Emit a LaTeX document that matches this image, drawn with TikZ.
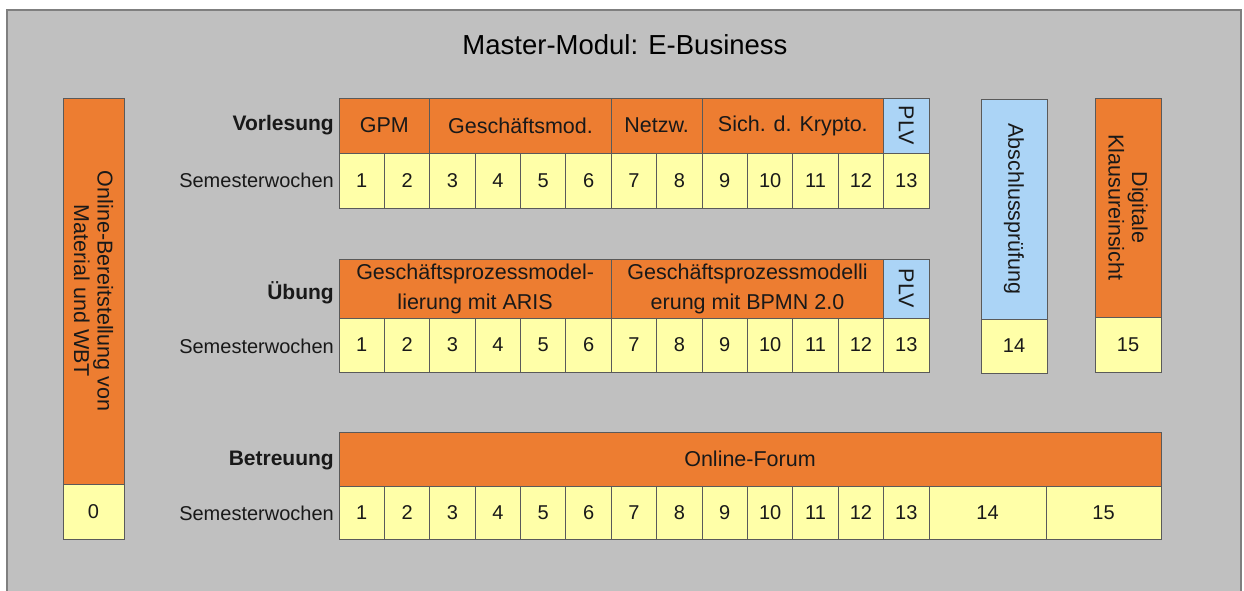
\documentclass[tikz,border=0pt]{standalone}
\usepackage{fontspec}
\setmainfont{Liberation Sans}
\usepackage{tikz}
\usetikzlibrary{backgrounds}
\definecolor{bgcolor}{HTML}{C0C0C0}
\definecolor{framecolor}{HTML}{7F7F7F}
\definecolor{orangecolor}{HTML}{ED7D31}
\definecolor{weekcolor}{HTML}{FFFFA8}
\definecolor{plvcolor}{HTML}{ABD4F6}
\definecolor{linecolor}{HTML}{5A5A5A}
\newcommand{\cellw}{45.4pt}
\newcommand{\txtsize}{\fontsize{20}{22}\selectfont}
\newcommand{\hdrsize}{\fontsize{21.5}{30}\selectfont}
\newcommand{\vertsize}{\fontsize{21.5}{23.5}\selectfont}

\tikzset{
  box/.style={draw=linecolor, line width=0.9pt, inner sep=0pt, outer sep=0pt, font=\txtsize, text=black!90},
  hdr/.style={box, fill=orangecolor, font=\hdrsize},
  plv/.style={box, fill=plvcolor, font=\hdrsize},
  wk/.style={box, fill=weekcolor, minimum width=\cellw},
  rowlbl/.style={anchor=east, inner sep=0pt, font=\txtsize, text=black!90},
}

\begin{document}
\begin{tikzpicture}[x=1pt, y=-1pt]
\useasboundingbox (0,0) rectangle (1244,590);
\begin{scope}[on background layer]
\fill[white] (0,0) rectangle (1244,590);
\fill[bgcolor] (7,10) rectangle (1241,600);
\draw[framecolor] [line width = 2pt] (7,600) -- (7,10) -- (1241,10) -- (1241,600);
\end{scope}
\node[font=\fontsize{27.5}{30}\selectfont] (title) at (625,45) {Master-Modul: E-Business};
%Online-Bereitstellung
\node[hdr, font=\vertsize, rotate=-90, align=center, minimum width=386pt, minimum height=61pt] (online) at (93.5,291) {Online-Bereitstellung von\\Material und WBT};
\node[wk, minimum width=61pt, minimum height=55pt] (w0) at (93.5,511.5) {0};
%Vorlesung
\node[rowlbl, font=\fontsize{21}{22}\selectfont\bfseries] (vl) at (334,125.5) {Vorlesung};
\node[rowlbl] (vlsw) at (334,180.5) {Semesterwochen};
\node[hdr, minimum width=90.8pt, minimum height=55pt] (gpm) at (384.4,125.5) {GPM};
\node[hdr, minimum width=181.5pt, minimum height=55pt] (gmod) at (520.5,125.5) {Geschäftsmod.};
\node[hdr, minimum width=90.8pt, minimum height=55pt] (netzw) at (656.7,125.5) {Netzw.};
\node[hdr, minimum width=181.5pt, minimum height=55pt] (krypto) at (792.85,125.5) {Sich. d. Krypto.};
\node[plv, rotate=-90, minimum width=55pt, minimum height=\cellw] (vlplv) at (906.3,125.5) {PLV};
\node[wk, minimum height=55pt] (v1) at (361.7,180.5) {1};
\node[wk, minimum height=55pt] (v2) at (407.1,180.5) {2};
\node[wk, minimum height=55pt] (v3) at (452.5,180.5) {3};
\node[wk, minimum height=55pt] (v4) at (497.9,180.5) {4};
\node[wk, minimum height=55pt] (v5) at (543.2,180.5) {5};
\node[wk, minimum height=55pt] (v6) at (588.6,180.5) {6};
\node[wk, minimum height=55pt] (v7) at (634.0,180.5) {7};
\node[wk, minimum height=55pt] (v8) at (679.4,180.5) {8};
\node[wk, minimum height=55pt] (v9) at (724.8,180.5) {9};
\node[wk, minimum height=55pt] (v10) at (770.2,180.5) {10};
\node[wk, minimum height=55pt] (v11) at (815.5,180.5) {11};
\node[wk, minimum height=55pt] (v12) at (860.9,180.5) {12};
\node[wk, minimum height=55pt] (v13) at (906.3,180.5) {13};
%Uebung
\node[rowlbl, font=\fontsize{21}{22}\selectfont\bfseries] (ue) at (334,293) {Übung};
\node[rowlbl] (uesw) at (334,346) {Semesterwochen};
\node[hdr, align=center, minimum width=272.3pt, minimum height=59pt] (aris) at (475.15,289) {Geschäftsprozessmodel-\\lierung mit ARIS};
\node[hdr, align=center, minimum width=272.3pt, minimum height=59pt] (bpmn) at (747.5,289) {Geschäftsprozessmodelli\\erung mit BPMN 2.0};
\node[plv, rotate=-90, minimum width=59pt, minimum height=\cellw] (ueplv) at (906.3,288.5) {PLV};
\node[wk, minimum height=54pt] (u1) at (361.7,345) {1};
\node[wk, minimum height=54pt] (u2) at (407.1,345) {2};
\node[wk, minimum height=54pt] (u3) at (452.5,345) {3};
\node[wk, minimum height=54pt] (u4) at (497.9,345) {4};
\node[wk, minimum height=54pt] (u5) at (543.2,345) {5};
\node[wk, minimum height=54pt] (u6) at (588.6,345) {6};
\node[wk, minimum height=54pt] (u7) at (634.0,345) {7};
\node[wk, minimum height=54pt] (u8) at (679.4,345) {8};
\node[wk, minimum height=54pt] (u9) at (724.8,345) {9};
\node[wk, minimum height=54pt] (u10) at (770.2,345) {10};
\node[wk, minimum height=54pt] (u11) at (815.5,345) {11};
\node[wk, minimum height=54pt] (u12) at (860.9,345) {12};
\node[wk, minimum height=54pt] (u13) at (906.3,345) {13};
%Abschlusspruefung und Klausureinsicht
\node[plv, font=\vertsize, rotate=-90, minimum width=220pt, minimum height=66pt] (pruef) at (1014,209) {Abschlussprüfung};
\node[wk, minimum width=66pt, minimum height=54pt] (w14) at (1014,346) {14};
\node[hdr, font=\vertsize, rotate=-90, align=center, minimum width=219pt, minimum height=66pt] (einsicht) at (1128,207.5) {Digitale\\Klausureinsicht};
\node[wk, minimum width=66pt, minimum height=55pt] (w15) at (1128,344.5) {15};
%Betreuung
\node[rowlbl, font=\fontsize{21}{22}\selectfont\bfseries] (bt) at (334,460) {Betreuung};
\node[rowlbl] (btsw) at (334,513) {Semesterwochen};
\node[hdr, minimum width=822pt, minimum height=54pt] (forum) at (750,459) {Online-Forum};
\node[wk, minimum height=53pt] (b1) at (361.7,512.5) {1};
\node[wk, minimum height=53pt] (b2) at (407.1,512.5) {2};
\node[wk, minimum height=53pt] (b3) at (452.5,512.5) {3};
\node[wk, minimum height=53pt] (b4) at (497.9,512.5) {4};
\node[wk, minimum height=53pt] (b5) at (543.2,512.5) {5};
\node[wk, minimum height=53pt] (b6) at (588.6,512.5) {6};
\node[wk, minimum height=53pt] (b7) at (634.0,512.5) {7};
\node[wk, minimum height=53pt] (b8) at (679.4,512.5) {8};
\node[wk, minimum height=53pt] (b9) at (724.8,512.5) {9};
\node[wk, minimum height=53pt] (b10) at (770.2,512.5) {10};
\node[wk, minimum height=53pt] (b11) at (815.5,512.5) {11};
\node[wk, minimum height=53pt] (b12) at (860.9,512.5) {12};
\node[wk, minimum height=53pt] (b13) at (906.3,512.5) {13};
\node[wk, minimum width=117pt, minimum height=53pt] (b14) at (987.5,512.5) {14};
\node[wk, minimum width=115pt, minimum height=53pt] (b15) at (1103.5,512.5) {15};
\end{tikzpicture}
\end{document}
